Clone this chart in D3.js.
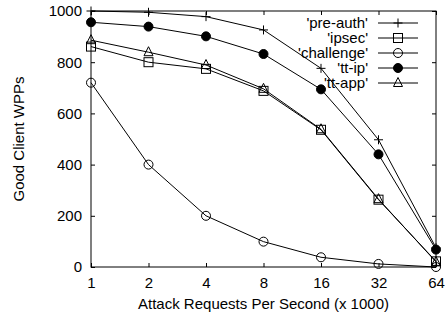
<!DOCTYPE html>
<html>
<head>
<meta charset="utf-8">
<script src="https://cdn.jsdelivr.net/npm/d3@7"></script>
<style>
  body { margin: 0; background: #fff; }
  text { font-family: "Liberation Sans", Arial, sans-serif; }
</style>
</head>
<body>
<div id="chart"></div>
<script>
// attack rate (x 1000 req/s)
var rates = [1, 2, 4, 8, 16, 32, 64];
var yTicks = [0, 200, 400, 600, 800, 1000];

var preAuth   = [1000, 995, 978, 926, 776, 497, 75];
var ipsec     = [861, 800, 774, 688, 536, 263, 22];
var challenge = [720, 400, 200, 99, 38, 12, 0];
var ttIp      = [956, 939, 901, 832, 694, 440, 68];
var ttApp     = [886, 839, 789, 696, 538, 265, 20];

var seriesNames = ["'pre-auth'", "'ipsec'", "'challenge'", "'tt-ip'", "'tt-app'"];
var seriesValues = [preAuth, ipsec, challenge, ttIp, ttApp];
var seriesMarks = ["plus", "square", "circle", "dot", "triangle"];

var W = 445, H = 320;
var margin = {top: 11, right: 9, bottom: 53, left: 91};
var width = W - margin.left - margin.right,
    height = H - margin.top - margin.bottom;
var fs = 15;

var svg = d3.select("#chart").append("svg")
    .attr("width", W)
    .attr("height", H);

var g = svg.append("g")
    .attr("transform", "translate(" + margin.left + "," + margin.top + ")");

var x = d3.scaleLog().base(2).domain([1, 64]).range([0, width]);
var y = d3.scaleLinear().domain([0, 1000]).range([height, 0]);

// frame
g.append("rect")
    .attr("width", width).attr("height", height)
    .attr("fill", "none").attr("stroke", "#000").attr("stroke-width", 1);

// ticks on all four sides, pointing inwards
var xb = d3.axisBottom(x).tickValues(rates).tickFormat(d3.format("d")).tickSizeInner(-4).tickSizeOuter(0).tickPadding(10);
var xt = d3.axisTop(x).tickValues(rates).tickFormat("").tickSizeInner(-4).tickSizeOuter(0);
var yl = d3.axisLeft(y).tickValues(yTicks).tickFormat(d3.format("d")).tickSizeInner(-4).tickSizeOuter(0).tickPadding(9);
var yr = d3.axisRight(y).tickValues(yTicks).tickFormat("").tickSizeInner(-4).tickSizeOuter(0);

g.append("g").attr("transform", "translate(0," + height + ")").call(xb);
g.append("g").call(xt);
g.append("g").call(yl);
g.append("g").attr("transform", "translate(" + width + ",0)").call(yr);

g.selectAll(".domain").remove();
g.selectAll(".tick line").attr("stroke", "#000");
g.selectAll(".tick text").attr("font-size", fs).attr("fill", "#000");

// axis titles
svg.append("text")
    .attr("x", margin.left + width / 2).attr("y", 309)
    .attr("text-anchor", "middle").attr("font-size", fs)
    .text("Attack Requests Per Second (x 1000)");

svg.append("text")
    .attr("transform", "translate(24," + (margin.top + height / 2) + ") rotate(-90)")
    .attr("text-anchor", "middle").attr("font-size", fs)
    .text("Good Client WPPs");

var line = d3.line()
    .x(function(d, i) { return x(rates[i]); })
    .y(function(d) { return y(d); });

function drawMark(sel, kind, cx, cy) {
  var r = 4.5;
  if (kind == "plus") {
    sel.append("path").attr("d", "M" + (cx - r) + "," + cy + "H" + (cx + r) + "M" + cx + "," + (cy - r) + "V" + (cy + r))
      .attr("stroke", "#000").attr("fill", "none");
  } else if (kind == "square") {
    sel.append("rect").attr("x", cx - r).attr("y", cy - r).attr("width", 2 * r).attr("height", 2 * r)
      .attr("stroke", "#000").attr("fill", "none");
  } else if (kind == "circle") {
    sel.append("circle").attr("cx", cx).attr("cy", cy).attr("r", r)
      .attr("stroke", "#000").attr("fill", "none");
  } else if (kind == "dot") {
    sel.append("circle").attr("cx", cx).attr("cy", cy).attr("r", r)
      .attr("stroke", "#000").attr("fill", "#000");
  } else if (kind == "triangle") {
    sel.append("path").attr("d", "M" + cx + "," + (cy - r - 1) + "L" + (cx + r) + "," + (cy + r - 1) + "L" + (cx - r) + "," + (cy + r - 1) + "Z")
      .attr("stroke", "#000").attr("fill", "none");
  }
}

seriesValues.forEach(function(vals, k) {
  g.append("path").datum(vals)
    .attr("d", line)
    .attr("fill", "none").attr("stroke", "#000").attr("stroke-width", 1);
  var mg = g.append("g");
  vals.forEach(function(v, i) { drawMark(mg, seriesMarks[k], x(rates[i]), y(v)); });
});

// legend
var lg = svg.append("g");
seriesNames.forEach(function(name, k) {
  var ly = 23 + k * 15;
  lg.append("text").attr("x", 368).attr("y", ly + 5)
    .attr("text-anchor", "end").attr("font-size", fs).text(name);
  lg.append("line").attr("x1", 378).attr("x2", 418).attr("y1", ly).attr("y2", ly)
    .attr("stroke", "#000");
  drawMark(lg, seriesMarks[k], 398, ly);
});
</script>
</body>
</html>
